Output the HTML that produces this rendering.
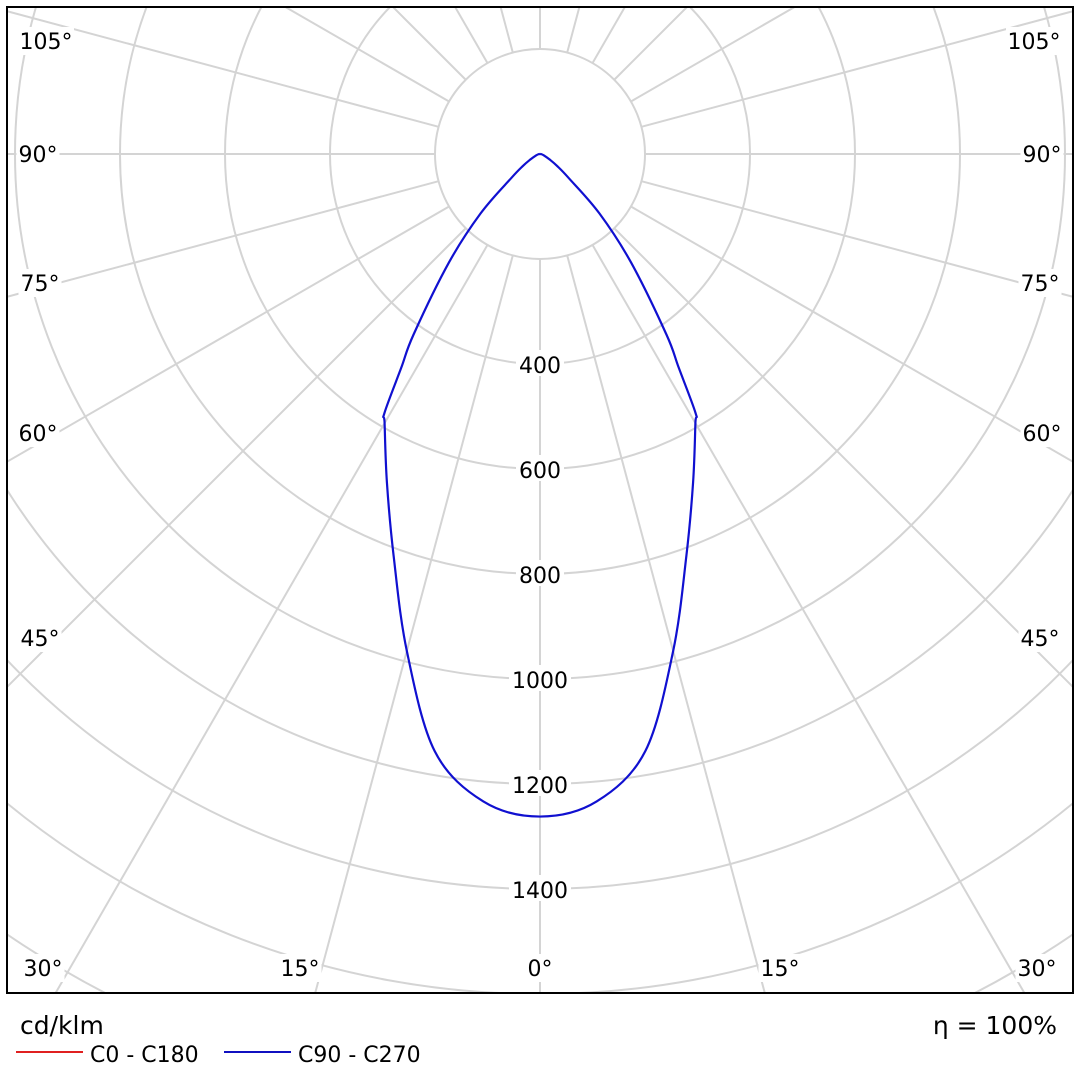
<!DOCTYPE html>
<html><head><meta charset="utf-8"><style>
html,body{margin:0;padding:0;background:#fff;width:1080px;height:1080px;overflow:hidden}
svg{display:block;position:absolute;left:0;top:0;font-family:"DejaVu Sans","Liberation Sans",sans-serif}
</style></head><body>
<svg id="chart" width="1080" height="1080" viewBox="0 0 1080 1080">
<defs><clipPath id="clip"><rect x="7" y="7" width="1066" height="986"/></clipPath></defs>
<g id="grid" clip-path="url(#clip)"></g>
<g id="curves" clip-path="url(#clip)"></g>
<g id="labels"></g>
<rect x="7" y="7" width="1066" height="986" fill="none" stroke="#000" stroke-width="2"/>
<text x="20" y="1034" font-size="25">cd/klm</text>
<text x="1057" y="1034" font-size="25" text-anchor="end">η = 100%</text>
<line x1="16" y1="1052" x2="83" y2="1052" stroke="#e02020" stroke-width="2"/>
<text x="90" y="1062" font-size="22">C0 - C180</text>
<line x1="224" y1="1052" x2="291" y2="1052" stroke="#1010c0" stroke-width="2"/>
<text x="298" y="1062" font-size="22">C90 - C270</text>
</svg>
<script>
const ringValues = [200,400,600,800,1000,1200,1400,1600,1800,2000,2200];
const ringLabels = ["400","600","800","1000","1200","1400"];
const angleLabels = ["0°","15°","30°","45°","60°","75°","90°","105°"];
const c90Angles = [0,5,10,15,20,25,30,31,33,35,40,45,50,55,60,70,80,90];
const c90Values = [1262,1238,1155,980,815,690,592,575,485,420,270,160,72,40,22,8,3,0];

const NS="http://www.w3.org/2000/svg";
const cx=540, cy=154, scale=105/200;
const rOf=v=>v*scale;
const pt=(deg,v)=>{const a=deg*Math.PI/180;return [cx+rOf(v)*Math.sin(a), cy+rOf(v)*Math.cos(a)];};
const grid=document.getElementById('grid');
const labels=document.getElementById('labels');
const curves=document.getElementById('curves');
function mk(tag,attrs,parent){const e=document.createElementNS(NS,tag);for(const k in attrs)e.setAttribute(k,attrs[k]);parent.appendChild(e);return e;}

ringValues.forEach(v=>{
  const c=mk('circle',{cx:cx,cy:cy,r:rOf(v),fill:'none',stroke:'#d4d4d4','stroke-width':2},grid);
  
  
});
for(let d=0; d<360; d+=15){
  const p1=pt(d,200), p2=pt(d,3000);
  const l=mk('line',{x1:p1[0],y1:p1[1],x2:p2[0],y2:p2[1],stroke:'#d4d4d4','stroke-width':2},grid);
  
  
}
ringLabels.forEach(s=>{
  const v=+s, y=cy+rOf(v);
  const w=s.length*14+6;
  const r=mk('rect',{x:cx-w/2,y:y-14,width:w,height:26,fill:'#fff'},labels);
  
  
  const t=mk('text',{x:cx,y:y+9,'font-size':22,'text-anchor':'middle'},labels);
  t.textContent=s;
  
  
});
const angPos={"0°":[540,976],"15°":[300,976],"30°":[43,976],"45°":[40,646],"60°":[38,441],"75°":[40,291],"90°":[38,162],"105°":[46,49]};
angleLabels.forEach(s=>{
  const deg=parseInt(s);
  const list=[angPos[s]];
  if(deg>0) list.push([1080-angPos[s][0],angPos[s][1]]);
  list.forEach(p=>{
    const w=s.length*13+4;
    const r=mk('rect',{x:p[0]-w/2,y:p[1]-22,width:w,height:28,fill:'#fff'},labels);
    
    
    const t=mk('text',{x:p[0],y:p[1],'font-size':22,'text-anchor':'middle'},labels);
    t.textContent=s;
    
    
  });
});
// C90 curve, symmetric, smoothed with Catmull-Rom
const pts=[];
for(let i=c90Angles.length-1;i>=0;i--) pts.push(pt(-c90Angles[i],c90Values[i]));
for(let i=1;i<c90Angles.length;i++) pts.push(pt(c90Angles[i],c90Values[i]));
let d='M'+pts[0][0]+','+pts[0][1];
for(let i=0;i<pts.length-1;i++){
  const p0=pts[Math.max(0,i-1)],p1=pts[i],p2=pts[i+1],p3=pts[Math.min(pts.length-1,i+2)];
  const c1=[p1[0]+(p2[0]-p0[0])/6,p1[1]+(p2[1]-p0[1])/6];
  const c2=[p2[0]-(p3[0]-p1[0])/6,p2[1]-(p3[1]-p1[1])/6];
  d+=' C'+c1.join(',')+' '+c2.join(',')+' '+p2.join(',');
}
const path=mk('path',{d:d,fill:'none',stroke:'#1010d0','stroke-width':2.2,'stroke-linejoin':'round'},curves);


</script>
</body></html>
